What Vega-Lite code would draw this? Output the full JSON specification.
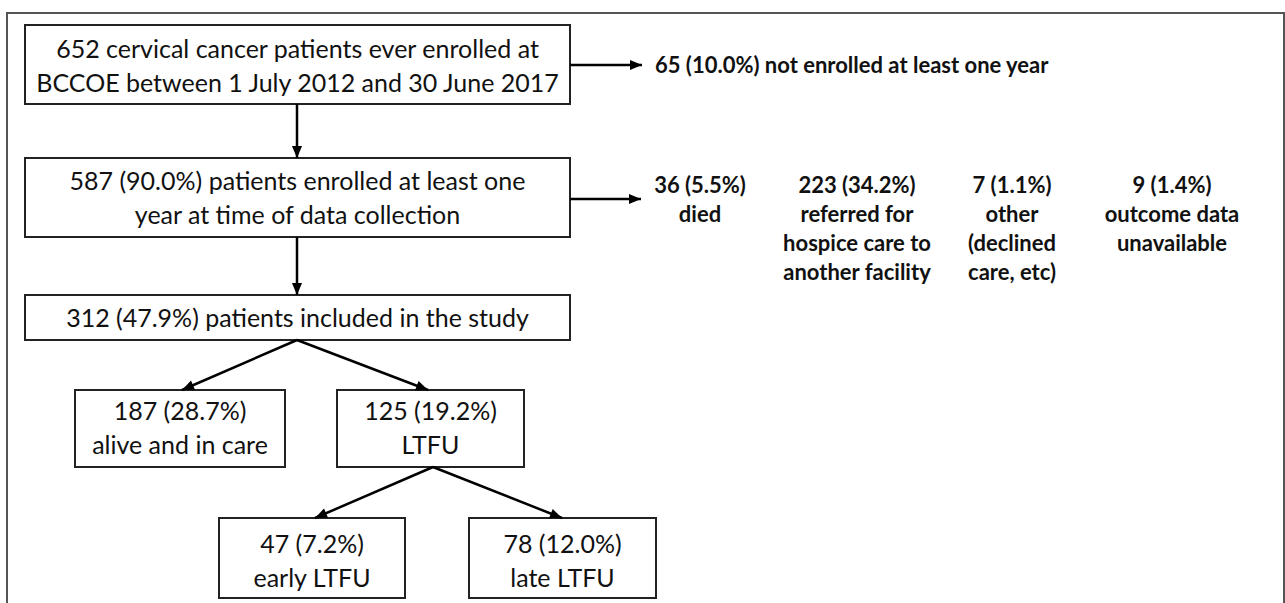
{
  "$schema": "https://vega.github.io/schema/vega-lite/v6.json",
  "width": 1285,
  "height": 603,
  "padding": 0,
  "autosize": {"type": "none"},
  "background": "white",
  "config": {"view": {"stroke": null}},
  "datasets": {
    "frame": [{"x": 7, "x2": 1284, "y": 13, "y2": 640}],
    "boxes": [
      {"id": "enrolled", "x": 25, "x2": 570, "y": 25, "y2": 104},
      {"id": "oneyear", "x": 25, "x2": 570, "y": 158, "y2": 237},
      {"id": "study", "x": 25, "x2": 570, "y": 295, "y2": 340},
      {"id": "alive", "x": 75, "x2": 285, "y": 390, "y2": 467},
      {"id": "ltfu", "x": 337, "x2": 524, "y": 390, "y2": 467},
      {"id": "early", "x": 219, "x2": 405, "y": 518, "y2": 598},
      {"id": "late", "x": 469, "x2": 656, "y": 518, "y2": 598}
    ],
    "edges": [
      {"from": "enrolled", "to": "notenrolled", "x": 570, "y": 65, "x2": 642, "y2": 65, "angle": 90},
      {"from": "oneyear", "to": "outcomes", "x": 570, "y": 199, "x2": 641, "y2": 199, "angle": 90},
      {"from": "enrolled", "to": "oneyear", "x": 297, "y": 104, "x2": 297, "y2": 158, "angle": 180},
      {"from": "oneyear", "to": "study", "x": 297, "y": 237, "x2": 297, "y2": 295, "angle": 180},
      {"from": "study", "to": "alive", "x": 297, "y": 340, "x2": 182, "y2": 390, "angle": 246.5},
      {"from": "study", "to": "ltfu", "x": 297, "y": 340, "x2": 428, "y2": 390, "angle": 110.9},
      {"from": "ltfu", "to": "early", "x": 433, "y": 467, "x2": 315, "y2": 518, "angle": 246.6},
      {"from": "ltfu", "to": "late", "x": 433, "y": 467, "x2": 562, "y2": 518, "angle": 111.6}
    ],
    "boxText": [
      {"text": "652 cervical cancer patients ever enrolled at\nBCCOE between 1 July 2012 and 30 June 2017", "x": 297.5, "y": 58},
      {"text": "587 (90.0%) patients enrolled at least one\nyear at time of data collection", "x": 297.5, "y": 190},
      {"text": "312 (47.9%) patients included in the study", "x": 297.5, "y": 327},
      {"text": "187 (28.7%)\nalive and in care", "x": 180, "y": 420},
      {"text": "125 (19.2%)\nLTFU", "x": 430.5, "y": 420},
      {"text": "47 (7.2%)\nearly LTFU", "x": 312, "y": 553},
      {"text": "78 (12.0%)\nlate LTFU", "x": 562.5, "y": 553}
    ],
    "noteLeft": [
      {"text": "65 (10.0%) not enrolled at least one year", "x": 655, "y": 73}
    ],
    "noteCenter": [
      {"text": "36 (5.5%)\ndied", "x": 700, "y": 193},
      {"text": "223 (34.2%)\nreferred for\nhospice care to\nanother facility", "x": 857, "y": 193},
      {"text": "7 (1.1%)\nother\n(declined\ncare, etc)", "x": 1012, "y": 193},
      {"text": "9 (1.4%)\noutcome data\nunavailable", "x": 1172, "y": 193}
    ]
  },
  "encoding": {
    "x": {"field": "x", "type": "quantitative", "axis": null, "scale": {"domain": [0, 1285], "nice": false, "zero": false}},
    "y": {"field": "y", "type": "quantitative", "axis": null, "scale": {"domain": [0, 603], "nice": false, "zero": false, "reverse": true}}
  },
  "layer": [
    {
      "data": {"name": "frame"},
      "mark": {"type": "rect", "fillOpacity": 0, "stroke": "#555555", "strokeWidth": 2},
      "encoding": {"x2": {"field": "x2"}, "y2": {"field": "y2"}}
    },
    {
      "data": {"name": "boxes"},
      "mark": {"type": "rect", "fill": "white", "stroke": "#222222", "strokeWidth": 2},
      "encoding": {"x2": {"field": "x2"}, "y2": {"field": "y2"}}
    },
    {
      "data": {"name": "edges"},
      "mark": {"type": "rule", "strokeWidth": 2.5, "color": "black"},
      "encoding": {"x2": {"field": "x2"}, "y2": {"field": "y2"}}
    },
    {
      "data": {"name": "edges"},
      "mark": {"type": "point", "shape": "M0,0L-0.42,1L0.42,1Z", "filled": true, "color": "black", "size": 576, "opacity": 1},
      "encoding": {
        "x": {"field": "x2", "type": "quantitative"},
        "y": {"field": "y2", "type": "quantitative"},
        "angle": {"field": "angle", "type": "quantitative", "scale": null}
      }
    },
    {
      "data": {"name": "boxText"},
      "mark": {"type": "text", "font": "Lato", "fontSize": 25, "lineHeight": 34, "align": "center", "baseline": "alphabetic", "lineBreak": "\n", "color": "#111111"},
      "encoding": {"text": {"field": "text"}}
    },
    {
      "data": {"name": "noteLeft"},
      "mark": {"type": "text", "font": "Lato", "fontSize": 22, "fontWeight": "bold", "align": "left", "baseline": "alphabetic", "color": "#111111"},
      "encoding": {"text": {"field": "text"}}
    },
    {
      "data": {"name": "noteCenter"},
      "mark": {"type": "text", "font": "Lato", "fontSize": 22, "fontWeight": "bold", "lineHeight": 29, "align": "center", "baseline": "alphabetic", "lineBreak": "\n", "color": "#111111"},
      "encoding": {"text": {"field": "text"}}
    }
  ]
}
